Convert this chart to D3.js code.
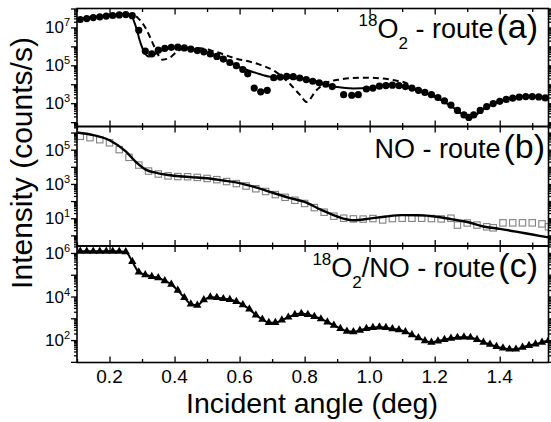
<!DOCTYPE html>
<html><head><meta charset="utf-8">
<script src="https://cdn.jsdelivr.net/npm/d3@7"></script>
<style>
body{margin:0;background:#fff}
svg{display:block}
text{font-family:"Liberation Sans",Arial,Helvetica,sans-serif;fill:#000}
</style>
</head><body>
<svg id="chart" width="551" height="422"></svg>
<script>
// ---- data (y values are log10 of intensity in counts/s) ----
const xTickValues = [0.2, 0.4, 0.6, 0.8, 1.0, 1.2, 1.4];
const xMinorValues = [0.1, 0.3, 0.5, 0.7, 0.9, 1.1, 1.3, 1.5];
const xTickLabels = ["0.2", "0.4", "0.6", "0.8", "1.0", "1.2", "1.4"];

// panel (a) 18O2 - route
const aPointsX = [0.11,0.13,0.15,0.17,0.19,0.21,0.23,0.25,0.27,0.29,0.31,0.33,0.35,0.37,0.39,0.41,0.43,0.45,0.47,0.49,0.51,0.53,0.55,0.57,0.59,0.61,0.625,0.645,0.665,0.685,0.705,0.725,0.745,0.765,0.785,0.805,0.825,0.845,0.865,0.885,0.92,0.945,0.965,0.99,1.01,1.03,1.05,1.07,1.09,1.11,1.13,1.15,1.17,1.19,1.21,1.23,1.25,1.27,1.29,1.305,1.32,1.34,1.36,1.38,1.40,1.42,1.44,1.46,1.48,1.50,1.52,1.54];
const aPointsY = [7.42,7.47,7.52,7.56,7.6,7.63,7.66,7.68,7.62,6.85,5.75,5.6,5.8,5.9,5.95,5.96,5.92,5.86,5.78,5.71,5.6,5.47,5.33,5.15,4.98,4.78,4.55,3.8,3.6,3.68,4.35,4.38,4.42,4.4,4.33,4.25,4.16,4.08,4.0,3.88,3.45,3.42,3.45,3.75,3.8,3.9,3.93,3.95,3.93,3.88,3.8,3.68,3.57,3.45,3.3,3.12,2.9,2.62,2.38,2.25,2.38,2.62,2.82,2.98,3.1,3.2,3.27,3.32,3.35,3.35,3.33,3.28];
const aFitX = [0.10,0.15,0.20,0.25,0.265,0.28,0.295,0.31,0.32,0.335,0.36,0.39,0.42,0.45,0.50,0.55,0.60,0.65,0.70,0.75,0.80,0.85,0.90,0.95,1.00,1.05,1.10,1.15,1.20,1.25,1.31,1.35,1.40,1.45,1.50,1.55];
const aFitY = [7.45,7.55,7.63,7.7,7.65,7.1,6.2,5.6,5.47,5.55,5.78,5.92,5.95,5.88,5.68,5.35,4.9,4.6,4.38,4.35,4.28,4.1,3.85,3.78,3.82,3.95,3.9,3.65,3.35,2.85,2.25,2.7,3.1,3.33,3.36,3.28];
const aModelX = [0.10,0.20,0.25,0.27,0.29,0.31,0.323,0.34,0.363,0.385,0.41,0.44,0.48,0.52,0.58,0.66,0.71,0.75,0.785,0.806,0.837,0.868,0.908,0.98,1.04,1.08,1.11,1.15,1.20,1.25,1.31,1.35,1.40,1.45,1.50,1.55];
const aModelY = [7.45,7.63,7.7,7.7,7.45,7.0,6.55,5.9,5.3,5.4,5.75,5.92,5.9,5.75,5.4,5.05,4.67,4.1,3.45,3.07,3.7,4.08,4.25,4.35,4.3,4.2,4.08,3.65,3.35,2.85,2.25,2.7,3.1,3.33,3.36,3.28];

// panel (b) NO - route
const bPointsX = [0.11,0.14,0.17,0.20,0.23,0.26,0.29,0.32,0.35,0.38,0.41,0.44,0.47,0.50,0.53,0.56,0.59,0.62,0.65,0.68,0.71,0.74,0.77,0.80,0.83,0.86,0.89,0.92,0.95,0.98,1.01,1.04,1.07,1.10,1.13,1.16,1.19,1.22,1.25,1.27,1.30,1.33,1.36,1.38,1.41,1.44,1.47,1.50,1.53,1.55];
const bPointsY = [5.78,5.7,5.58,5.4,5.0,4.55,4.1,3.75,3.58,3.47,3.43,3.42,3.38,3.32,3.25,3.14,3.02,2.88,2.72,2.56,2.38,2.22,2.05,1.86,1.62,1.35,1.12,1.0,0.96,0.95,0.98,0.9,0.98,1.0,1.0,1.0,0.98,0.96,1.0,0.6,0.72,0.6,0.5,0.44,0.73,0.73,0.73,0.73,0.67,0.5];
const bFitX = [0.10,0.15,0.20,0.25,0.28,0.31,0.35,0.40,0.45,0.50,0.55,0.60,0.65,0.70,0.75,0.80,0.85,0.90,0.95,1.00,1.05,1.10,1.15,1.20,1.25,1.30,1.35,1.40,1.45,1.50,1.55];
const bFitY = [6.0,5.85,5.55,4.9,4.3,3.85,3.62,3.48,3.4,3.33,3.2,3.05,2.8,2.5,2.2,1.95,1.5,1.1,0.88,0.98,1.1,1.18,1.17,1.1,0.95,0.78,0.52,0.38,0.22,0.05,-0.12];

// panel (c) 18O2/NO - route
const cPointsX = [0.11,0.13,0.15,0.17,0.19,0.21,0.23,0.25,0.27,0.29,0.31,0.33,0.35,0.37,0.39,0.41,0.43,0.45,0.47,0.49,0.51,0.53,0.55,0.57,0.59,0.61,0.63,0.65,0.67,0.69,0.71,0.73,0.75,0.77,0.79,0.81,0.83,0.85,0.87,0.89,0.91,0.93,0.95,0.97,0.99,1.01,1.03,1.05,1.07,1.09,1.11,1.13,1.15,1.17,1.19,1.21,1.23,1.25,1.27,1.29,1.31,1.33,1.35,1.37,1.39,1.41,1.43,1.45,1.47,1.49,1.51,1.53,1.55];
const cPointsY = [6.08,6.08,6.08,6.08,6.08,6.08,6.07,6.05,5.6,5.12,5.0,4.92,4.86,4.72,4.56,4.28,3.95,3.65,3.6,3.85,3.97,3.95,3.9,3.86,3.77,3.62,3.42,3.15,2.95,2.8,2.8,2.92,3.05,3.17,3.22,3.17,3.08,2.97,2.83,2.68,2.53,2.4,2.38,2.45,2.53,2.57,2.6,2.57,2.52,2.47,2.38,2.24,2.1,1.97,1.9,1.95,2.02,2.08,2.12,2.14,2.12,2.02,1.9,1.8,1.7,1.63,1.58,1.58,1.67,1.75,1.82,1.9,1.98];

// ---- layout ----
const svg = d3.select("#chart");
const x = d3.scaleLinear().domain([0.1, 1.55]).range([77, 548.5]);
const panels = [
  {top: 8.5, bottom: 126.5, dom: [1.77, 8.0], lab: [3, 5, 7]},
  {top: 126.5, bottom: 246, dom: [-0.62, 6.35], lab: [1, 3, 5]},
  {top: 246, bottom: 362.5, dom: [0.97, 6.32], lab: [2, 4, 6]}
];
panels.forEach((p, i) => {
  p.y = d3.scaleLog().domain([10 ** p.dom[0], 10 ** p.dom[1]]).range([p.bottom, p.top]);
  svg.append("clipPath").attr("id", "clip" + i).append("rect")
    .attr("x", x.range()[0]).attr("y", p.top)
    .attr("width", x.range()[1] - x.range()[0]).attr("height", p.bottom - p.top);
});

function zip(xs, ys) { return xs.map((v, i) => [v, ys[i]]); }

function drawAxes(p, showXLabels) {
  const g = svg.append("g");
  const styleAx = s => { s.select(".domain").remove(); s.selectAll("line").attr("stroke", "#000").attr("stroke-width", 1.3); };
  g.append("g").attr("transform", `translate(0,${p.bottom})`)
    .call(d3.axisBottom(x).tickValues(xTickValues).tickSize(-6).tickFormat(""))
    .call(styleAx);
  g.append("g").attr("transform", `translate(0,${p.bottom})`)
    .call(d3.axisBottom(x).tickValues(xMinorValues).tickSize(-3.5).tickFormat(""))
    .call(styleAx);
  g.append("g").attr("transform", `translate(0,${p.top})`)
    .call(d3.axisTop(x).tickValues(xTickValues).tickSize(-6).tickFormat(""))
    .call(styleAx);
  g.append("g").attr("transform", `translate(0,${p.top})`)
    .call(d3.axisTop(x).tickValues(xMinorValues).tickSize(-3.5).tickFormat(""))
    .call(styleAx);
  const majors = [], minors = [];
  for (let k = Math.floor(p.dom[0]); k <= Math.ceil(p.dom[1]); k++) {
    if (k >= p.dom[0] && k <= p.dom[1]) majors.push(10 ** k);
    for (let m = 2; m <= 9; m++) {
      const lv = k + Math.log10(m);
      if (lv >= p.dom[0] && lv <= p.dom[1]) minors.push(m * 10 ** k);
    }
  }
  [[d3.axisLeft, x.range()[0]], [d3.axisRight, x.range()[1]]].forEach(([ax, xx]) => {
    g.append("g").attr("transform", `translate(${xx},0)`)
      .call(ax(p.y).tickValues(majors).tickSize(6).tickFormat("")).call(styleAx);
    g.append("g").attr("transform", `translate(${xx},0)`)
      .call(ax(p.y).tickValues(minors).tickSize(3).tickFormat("")).call(styleAx);
  });
  p.lab.forEach(k => {
    const t = g.append("text").attr("x", 70).attr("y", p.y(10 ** k) + 6)
      .attr("text-anchor", "end").style("font-size", "17px");
    t.append("tspan").text("10");
    t.append("tspan").attr("dy", -7).style("font-size", "11px").text(k);
  });
  g.append("rect").attr("x", x.range()[0]).attr("y", p.top)
    .attr("width", x.range()[1] - x.range()[0]).attr("height", p.bottom - p.top)
    .attr("fill", "none").attr("stroke", "#000").attr("stroke-width", 1.6);
  if (showXLabels) {
    xTickValues.forEach((v, i) => {
      g.append("text").attr("x", x(v)).attr("y", p.bottom + 20.5)
        .attr("text-anchor", "middle").style("font-size", "19px").text(xTickLabels[i]);
    });
  }
}

function lineFor(p) {
  return d3.line().x(d => x(d[0])).y(d => p.y(10 ** d[1])).curve(d3.curveMonotoneX);
}

// ---- panel (a) ----
{
  const p = panels[0];
  const g = svg.append("g").attr("clip-path", "url(#clip0)");
  g.append("path").datum(zip(aModelX, aModelY)).attr("d", lineFor(p))
    .attr("fill", "none").attr("stroke", "#000").attr("stroke-width", 2).attr("stroke-dasharray", "6,4");
  g.append("path").datum(zip(aFitX, aFitY)).attr("d", lineFor(p))
    .attr("fill", "none").attr("stroke", "#000").attr("stroke-width", 2);
  g.selectAll("circle").data(zip(aPointsX, aPointsY)).join("circle")
    .attr("cx", d => x(d[0])).attr("cy", d => p.y(10 ** d[1])).attr("r", 3.6).attr("fill", "#000");
}
// ---- panel (b) ----
{
  const p = panels[1];
  const g = svg.append("g").attr("clip-path", "url(#clip1)");
  g.selectAll("rect").data(zip(bPointsX, bPointsY)).join("rect")
    .attr("x", d => x(d[0]) - 3.2).attr("y", d => p.y(10 ** d[1]) - 3.2)
    .attr("width", 6.4).attr("height", 6.4)
    .attr("fill", "#fff").attr("stroke", "#808080").attr("stroke-width", 1.1);
  g.append("path").datum(zip(bFitX, bFitY)).attr("d", lineFor(p))
    .attr("fill", "none").attr("stroke", "#000").attr("stroke-width", 2.4);
}
// ---- panel (c) ----
{
  const p = panels[2];
  const g = svg.append("g").attr("clip-path", "url(#clip2)");
  const pts = zip(cPointsX, cPointsY);
  g.append("path").datum(pts).attr("d", lineFor(p))
    .attr("fill", "none").attr("stroke", "#000").attr("stroke-width", 2);
  const sym = d3.symbol(d3.symbolTriangle, 30);
  g.selectAll("path.tri").data(pts).join("path").attr("class", "tri")
    .attr("d", sym).attr("transform", d => `translate(${x(d[0])},${p.y(10 ** d[1])})`).attr("fill", "#000");
}

drawAxes(panels[0], false);
drawAxes(panels[1], false);
drawAxes(panels[2], true);

// ---- panel labels ----
function label(xx, yy, parts) {
  const t = svg.append("text").attr("x", xx).attr("y", yy).attr("text-anchor", "end");
  parts.forEach(([txt, size, dy, dx]) => {
    t.append("tspan").attr("dy", dy).attr("dx", dx || 0).style("font-size", size + "px").text(txt);
  });
}
label(538, 38, [["18", 17, -12], ["O", 27, 12], ["2", 17, 11], [" - route", 27, -11], ["(a)", 34, 0, 3]]);
label(545, 158, [["NO - route", 27, 0], ["(b)", 34, 0, 3]]);
label(538, 277, [["18", 17, -12], ["O", 27, 12], ["2", 17, 11], ["/NO - route", 27, -11], ["(c)", 34, 0, 3]]);

// ---- axis titles ----
svg.append("text").attr("x", 312).attr("y", 413).attr("text-anchor", "middle")
  .style("font-size", "28.5px").text("Incident angle (deg)");
svg.append("text").attr("transform", "translate(32,163) rotate(-90)").attr("text-anchor", "middle")
  .style("font-size", "30px").text("Intensity (counts/s)");
</script>
</body></html>
